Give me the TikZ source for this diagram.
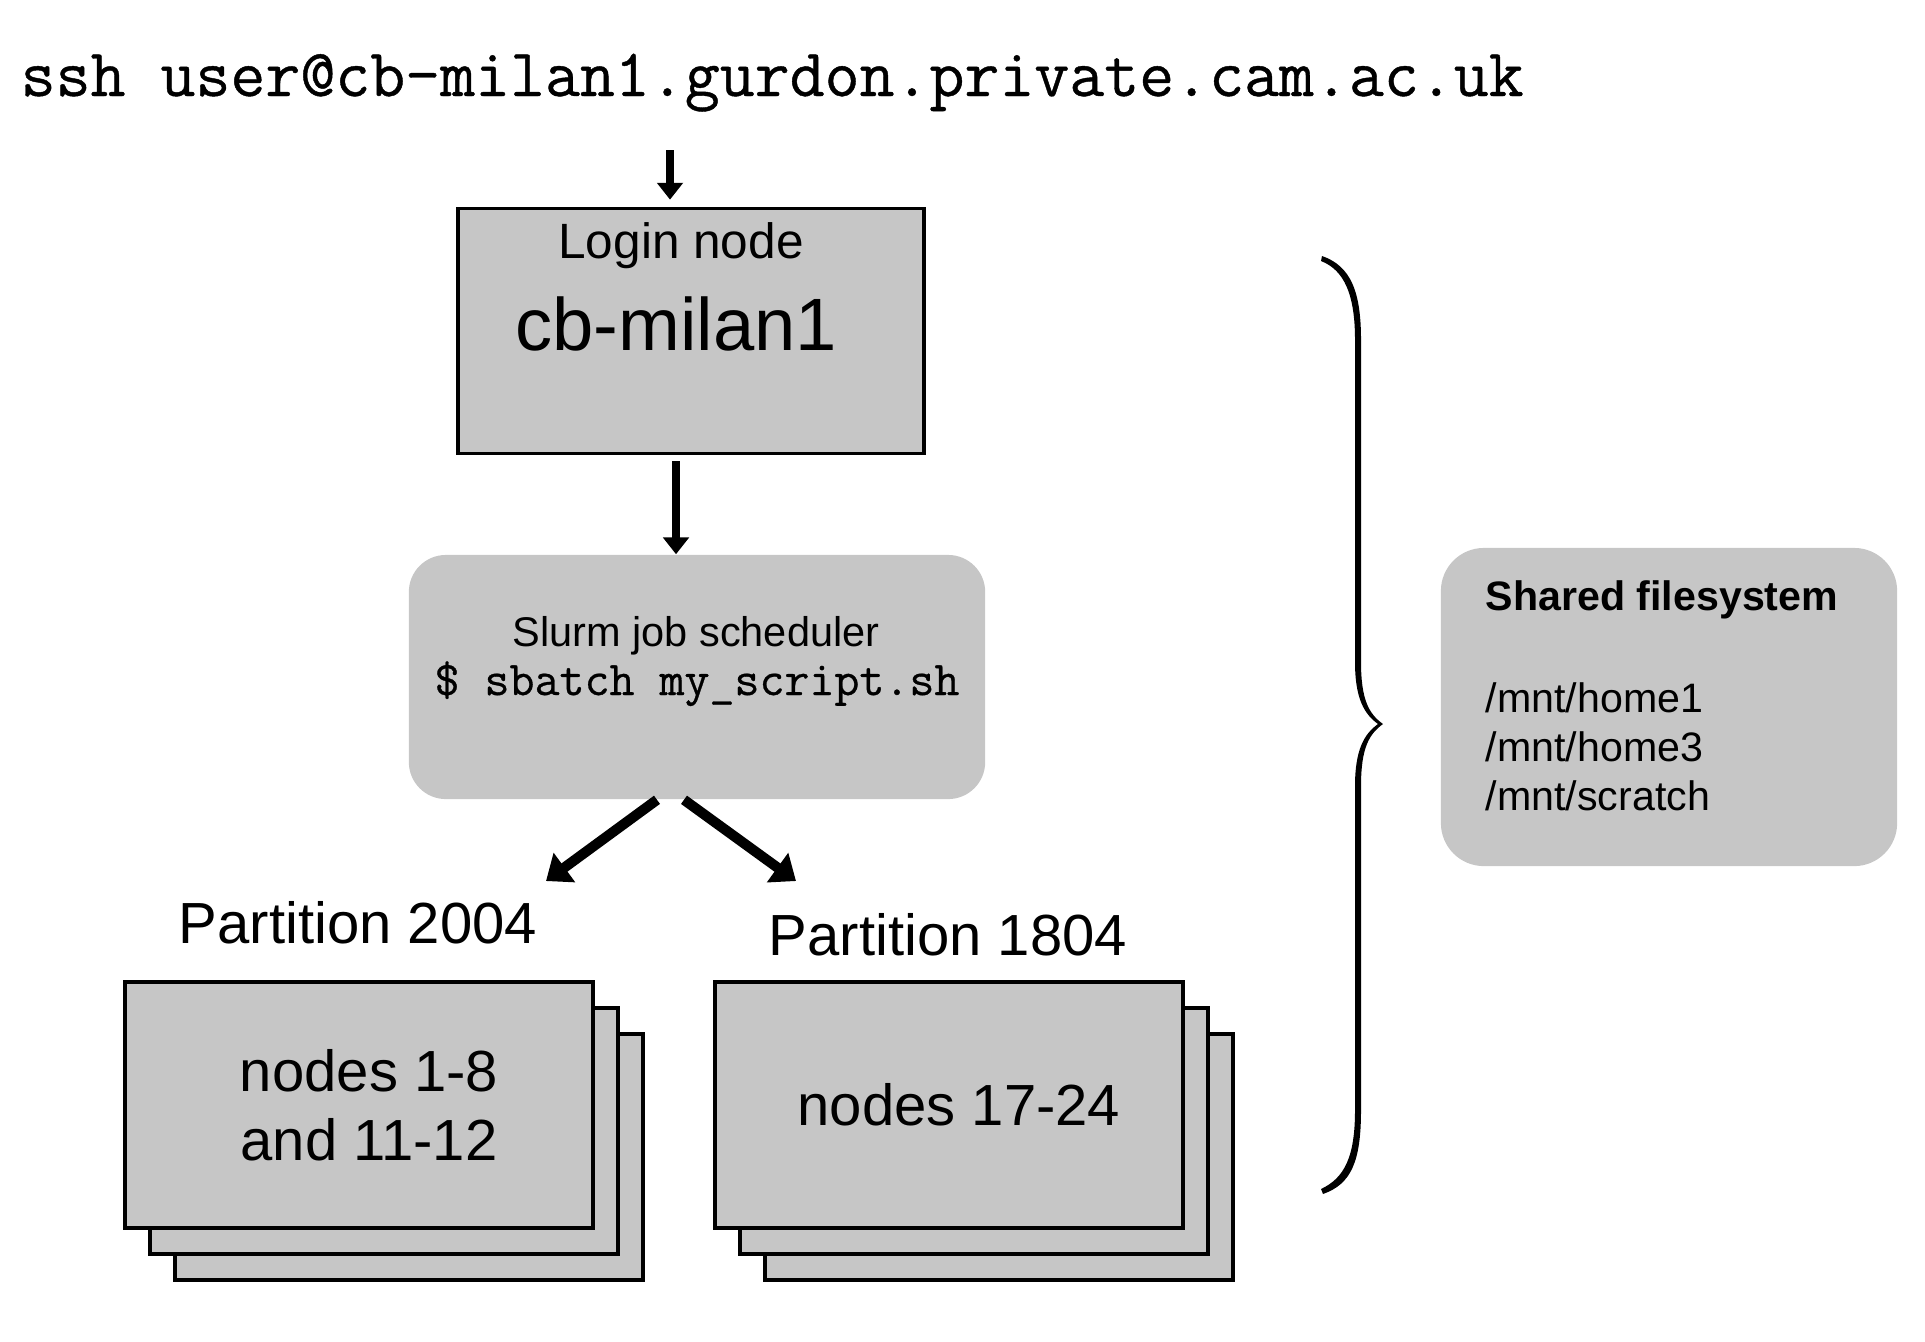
\documentclass[tikz,border=0pt]{standalone}
\usepackage{fontspec}
\setmainfont{Liberation Sans}
\newfontfamily\codefont{Latin Modern Mono}[FakeBold=0.6]
\usepackage{tikz}
\usetikzlibrary{positioning, arrows.meta, calc}
\definecolor{boxgray}{RGB}{198,198,198}

\begin{document}
\begin{tikzpicture}[
        x=0.01cm, y=-0.01cm,
        hostbox/.style={rectangle, draw=black, fill=boxgray, line width=1pt, inner sep=0pt},
        softbox/.style={rectangle, rounded corners=0.37cm, fill=boxgray, inner sep=0pt},
        stackbox/.style={hostbox, minimum width=4.68cm, minimum height=2.46cm, align=center, font=\fontsize{16.5}{19.6}\selectfont},
        parttext/.style={anchor=base, inner sep=0pt, font=\fontsize{16.5}{19}\selectfont},
        arrow/.style={-{Triangle[width=7.2pt, length=4.8pt]}, line width=2.1pt},
        splitarrow/.style={-{Triangle[width=10pt, length=6.5pt]}, line width=2.9pt}
        ]
        \useasboundingbox (0,0) rectangle (1925,1341);

        % Command line
        \node[anchor=base west, inner sep=0pt, font=\codefont\fontsize{19.3}{23}\selectfont] (ssh) at (20,96) {ssh user@cb-milan1.gurdon.private.cam.ac.uk};

        % Login node
        \node[hostbox, minimum width=4.66cm, minimum height=2.45cm] (login) at (691,331) {};
        \node[anchor=base, font=\fontsize{14.1}{17}\selectfont] (logintitle) at (681,258) {Login node};
        \node[anchor=base, font=\fontsize{21.1}{25}\selectfont] (loginname) at (676,350) {cb-milan1};

        % Slurm scheduler
        \node[softbox, minimum width=5.76cm, minimum height=2.44cm] (slurm) at (697,677) {};
        \node[anchor=base, font=\fontsize{11.8}{14}\selectfont] (slurmtitle) at (696,646) {Slurm job scheduler};
        \node[anchor=base, font=\codefont\fontsize{13.8}{16}\selectfont] (slurmcmd) at (697,695) {\$ sbatch my\_script.sh};

        % Connections
        \coordinate (sshdrop) at (670,150);
        \coordinate (logindrop) at (676,0);
        \draw[arrow, shorten >=2pt] (sshdrop) -- (sshdrop |- login.north);
        \draw[arrow, shorten <=1.7pt] (login.south -| logindrop) -- (slurm.north -| logindrop);

        \coordinate (to2004) at (546,881);
        \coordinate (to1804) at (796,881);
        \draw[splitarrow] ([xshift=-0.4cm]slurm.south) -- (to2004);
        \draw[splitarrow] ([xshift=-0.13cm]slurm.south) -- (to1804);

        % Partitions
        \node[parttext] (lbl2004) at (358,943) {Partition 2004};
        \node[parttext] (lbl1804) at (948,955) {Partition 1804};

        \foreach \k in {2,1} {
            \node[stackbox] (p2004\k) at ({359+25*\k},{1105+26*\k}) {};
            \node[stackbox] (p1804\k) at ({949+25*\k},{1105+26*\k}) {};
        }
        \node[stackbox] (p2004) at (359,1105) {\hspace*{0.2cm}nodes 1-8\\\hspace*{0.2cm}and 11-12};
        \node[stackbox] (p1804) at (949,1105) {\hspace{0.2cm}nodes 17-24};

        % Brace
        \fill (1322,256) .. controls (1351,266) and (1361,292) .. (1361,340)
            -- (1361,662) .. controls (1361,700) and (1369,714) .. (1383,724)
            .. controls (1369,734) and (1361,748) .. (1361,786)
            -- (1361,1110) .. controls (1361,1162) and (1351,1184) .. (1323,1194)
            -- (1321,1189) .. controls (1344,1178) and (1355,1158) .. (1355,1110)
            -- (1355,786) .. controls (1355,750) and (1364,734) .. (1378,724)
            .. controls (1364,714) and (1355,698) .. (1355,662)
            -- (1355,340) .. controls (1355,294) and (1344,270) .. (1321,261) -- cycle;

        % Shared filesystem
        \node[softbox, rounded corners=0.43cm, minimum width=4.56cm, minimum height=3.18cm] (shared) at (1669,707) {};
        \node[align=left, inner sep=0pt, font=\fontsize{11.7}{14}\selectfont] (sharedtext) at (1662,696)
            {\textbf{Shared filesystem}\\[15pt]/mnt/home1\\/mnt/home3\\/mnt/scratch};

    \end{tikzpicture}
\end{document}
